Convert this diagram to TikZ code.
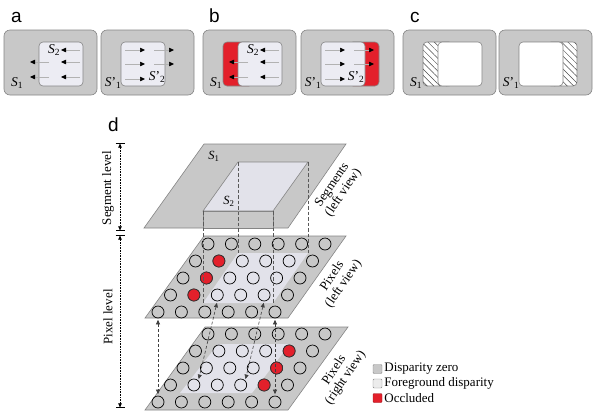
\documentclass[tikz,border=0pt]{standalone}
\usepackage{fontspec}
\setmainfont{Liberation Serif}
\newfontfamily\panelfont{Liberation Sans}
\usepackage{xcolor}
\usepackage{tikz}
\usetikzlibrary{positioning,arrows.meta,patterns.meta}

\definecolor{layergray}{HTML}{C8C8C8}
\definecolor{edgegray}{HTML}{858585}
\definecolor{fgface}{HTML}{ECECF3}
\definecolor{fglayer}{HTML}{E2E2EA}
\definecolor{occred}{HTML}{E3202B}

\begin{document}
\begin{tikzpicture}[
    x=1pt, y=-1pt,
    panel/.style={
        rectangle,
        rounded corners=6pt,
        draw=edgegray,
        fill=layergray,
        line width=0.6pt,
        minimum width=93pt,
        minimum height=65pt,
        inner sep=0pt
    },
    seg/.style={
        rectangle,
        rounded corners=4pt,
        draw=edgegray,
        fill=fgface,
        line width=0.6pt,
        minimum width=44pt,
        minimum height=44pt,
        inner sep=0pt
    },
    occbox/.style={
        seg,
        fill=occred,
        minimum width=30pt
    },
    hatchbox/.style={
        seg,
        fill=white,
        minimum width=30pt,
        postaction={pattern={Lines[angle=-45,distance=4.5pt,line width=0.5pt]},
            pattern color=black!70}
    },
    tag/.style={
        font=\panelfont\fontsize{19}{19}\selectfont,
        inner sep=0pt
    },
    slabel/.style={
        font=\fontsize{13.5}{13.5}\selectfont,
        inner sep=0pt
    },
    view/.style={
        align=center,
        font=\fontsize{13}{13.5}\selectfont,
        inner sep=0pt
    },
    layer/.style={
        draw=edgegray,
        fill=layergray,
        line width=0.6pt
    },
    pix/.style={
        circle,
        draw=black,
        line width=0.7pt,
        minimum size=12pt,
        inner sep=0pt
    },
    occ/.style={
        fill=occred,
        draw=black!80
    },
    key/.style={
        rectangle,
        rounded corners=1pt,
        draw=edgegray,
        minimum size=9pt,
        inner sep=0pt
    },
    flow/.style={
        draw=gray!60,
        line width=0.5pt,
        -{Triangle[length=5pt,width=4.5pt,color=black]}
    },
    link/.style={
        draw=black!75,
        line width=0.6pt,
        dash pattern=on 3pt off 2pt,
        {Triangle[length=4.5pt,width=4pt]}-{Triangle[length=4.5pt,width=4pt]},
        shorten <=1.5pt,
        shorten >=1.5pt
    },
    proj/.style={
        draw=black!65,
        line width=0.5pt,
        dash pattern=on 3.5pt off 2pt
    },
    dim/.style={
        line width=0.6pt,
        densely dotted,
        {Bar[width=9pt]Triangle[length=4pt,width=3.5pt]}-{Triangle[length=4pt,width=3.5pt]Bar[width=9pt]}
    }
]
\useasboundingbox (0,0) rectangle (595,416);

\node[tag, anchor=base west] (ta) at (11,22) {a};
\node[tag, anchor=base west] (tb) at (209,22) {b};
\node[tag, anchor=base west] (tc) at (410,22) {c};

\foreach \p/\xo in {a/4,b/203,c/403}
    \node[panel] (\p1) at (\xo+46.5,62.5) {};
\foreach \p/\xo in {a/101,b/301,c/499}
    \node[panel] (\p2) at (\xo+46.5,62.5) {};

\node[occbox] (b1o) at (238,64) {};
\node[occbox] (b2o) at (364,64) {};
\node[hatchbox] (c1o) at (438,64) {};
\node[hatchbox] (c2o) at (562,64) {};

\node[seg] (a1s) at (61,64) {};
\node[seg] (b1s) at (260,64) {};
\node[seg, fill=white] (c1s) at (460,64) {};
\node[seg] (a2s) at (143,64) {};
\node[seg] (b2s) at (343,64) {};
\node[seg, fill=white] (c2s) at (541,64) {};

\foreach \xo in {4,203}{
    \foreach \yy in {50,62,77}
        \draw[flow] (\xo+76,\yy) -- (\xo+57,\yy);
    \foreach \yy in {62,77}
        \draw[flow] (\xo+45,\yy) -- (\xo+26,\yy);
}
\foreach \xo in {101,301}{
    \foreach \yy in {50,64,79}
        \draw[flow] (\xo+24,\yy) -- (\xo+44,\yy);
    \foreach \yy in {50,64}
        \draw[flow] (\xo+53,\yy) -- (\xo+73,\yy);
}

\foreach \p/\xo in {a/4,b/203,c/403}
    \node[slabel] (\p1-l) at (\xo+13,83) {\textit{S}\textsubscript{1}};
\foreach \p/\xo in {a/101,b/301,c/499}
    \node[slabel] (\p2-l) at (\xo+12,83) {\textit{S}'\textsubscript{1}};
\node[slabel] (a1-in) at (54,50) {\textit{S}\textsubscript{2}};
\node[slabel] (b1-in) at (253,50) {\textit{S}\textsubscript{2}};
\node[slabel] (a2-in) at (157,77) {\textit{S}'\textsubscript{2}};
\node[slabel] (b2-in) at (356,77) {\textit{S}'\textsubscript{2}};

\node[tag, anchor=base west] (td) at (108,131) {d};

\coordinate (dtop) at (120,143);
\coordinate (dmid1) at (120,231);
\coordinate (dmid2) at (120,235);
\coordinate (dbot) at (120,408);
\draw[dim] (dtop) -- (dmid1);
\draw[dim] (dmid2) -- (dbot);
\node[view, rotate=90] (seglv) at (108,188) {Segment level};
\node[view, rotate=90] (pixlv) at (108,317) {Pixel level};

\draw[layer] (144,228) -- (288,228) -- (346,144) -- (204,144) -- cycle;
\draw[layer, fill=fglayer] (203,211) -- (273,211) -- (308,162) -- (238,162) -- cycle;
\draw[layer] (203,211) rectangle (273,228);
\coordinate (s2-nw) at (238,162);
\coordinate (s2-ne) at (308,162);
\coordinate (s2-sw) at (203,211);
\coordinate (s2-se) at (273,211);

\draw[layer] (145,318) -- (288,318) -- (346,236) -- (204,236) -- cycle;
\fill[fglayer] (203,303) -- (273,303) -- (308,253) -- (238,253) -- cycle;
\coordinate (lf-nw) at (238,253);
\coordinate (lf-ne) at (308,253);
\coordinate (lf-sw) at (203,303);
\coordinate (lf-se) at (273,303);

\draw[layer] (145,410) -- (288,410) -- (348,327) -- (205,327) -- cycle;
\fill[fglayer] (180,393) -- (252,393) -- (290,344) -- (218,344) -- cycle;

\foreach \r in {0,...,4}
    \foreach \c in {0,...,5}{
        \node[pix] (l-\r-\c) at ({158+23.4*\c+12.5*\r},{312-17*\r}) {};
        \node[pix] (r-\r-\c) at ({158+23.4*\c+12.5*\r},{402-17*\r}) {};
    }
\foreach \r in {1,2,3}{
    \node[pix, occ] (lo-\r) at (l-\r-1) {};
    \node[pix, occ] (ro-\r) at (r-\r-4) {};
}

\draw[proj] (s2-nw) -- (lf-nw);
\draw[proj] (s2-ne) -- (lf-ne);
\draw[proj] (s2-sw) -- (lf-sw);
\draw[proj] (s2-se) -- (lf-se);

\draw[link] (l-0-0.south) -- (r-0-0.north);
\draw[link] (l-1-2.south) -- (r-1-1.north east);
\draw[link] (l-1-4.south) -- (r-1-3.north east);
\draw[link] (l-0-5.south) -- (r-0-5.north);

\node[slabel, font=\fontsize{12.5}{12.5}\selectfont] (seg1) at (214,156) {\textit{S}\textsubscript{1}};
\node[slabel, font=\fontsize{12.5}{12.5}\selectfont] (seg2) at (229,201) {\textit{S}\textsubscript{2}};

\node[view, rotate=56] (segv) at (338,189) {Segments\\(left view)};
\node[view, rotate=56] (pixl) at (338,280) {Pixels\\(left view)};
\node[view, rotate=56] (pixr) at (340,374) {Pixels\\(right view)};

\node[key, fill=layergray] (k0) at (377.5,369) {};
\node[view, right=2pt of k0] (k0t) {Disparity zero};
\node[key, fill=gray!15] (k1) at (377.5,383.5) {};
\node[view, right=2pt of k1] (k1t) {Foreground disparity};
\node[key, fill=occred, draw=occred!70!black] (k2) at (377.5,398) {};
\node[view, right=2pt of k2] (k2t) {Occluded};

\end{tikzpicture}
\end{document}
